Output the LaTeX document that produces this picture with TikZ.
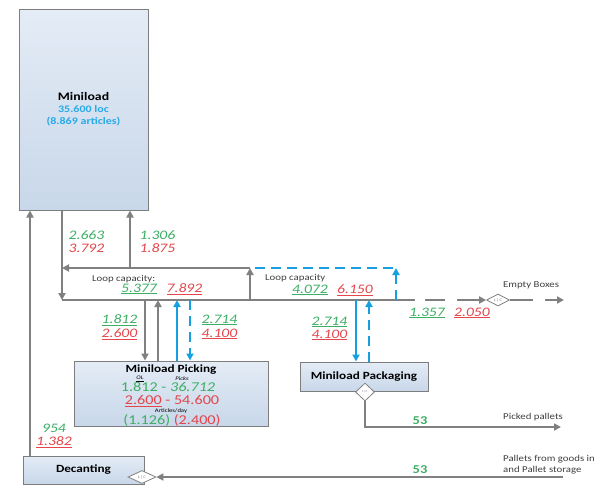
\documentclass[tikz,border=0pt]{standalone}
\usepackage{fontspec}
\setmainfont{Carlito}[FakeStretch=1.2]
\usetikzlibrary{arrows.meta,shapes.geometric}
\definecolor{gl}{RGB}{128,128,128}
\definecolor{bl}{RGB}{20,160,225}
\definecolor{bltext}{RGB}{40,170,230}
\definecolor{gn}{RGB}{60,175,100}
\definecolor{rd}{RGB}{228,70,75}
\definecolor{bxtop}{RGB}{228,236,246}
\definecolor{bxbot}{RGB}{200,215,233}
\definecolor{bxline}{RGB}{125,125,125}
\begin{document}
\begin{tikzpicture}[x=1pt,y=-1pt,
  box/.style={draw=bxline,line width=1pt,top color=bxtop,bottom color=bxbot,inner sep=0pt,
    font=\fontsize{11}{12}\selectfont\bfseries},
  gline/.style={draw=gl,line width=2.5pt},
  bline/.style={draw=bl,line width=2.5pt},
  bdash/.style={draw=bl,line width=2.5pt,dash pattern=on 10pt off 6pt},
  tip/.style={-{Triangle[length=7pt,width=7pt]}},
  diam/.style={diamond,draw=gl,line width=0.8pt,fill=white,inner sep=0pt},
  lc/.style={inner sep=0pt,font=\fontsize{4}{4}\selectfont,text=gl},
  num/.style={inner sep=0pt,font=\fontsize{13}{13}\selectfont\itshape},
  gnum/.style={num,text=gn},
  rnum/.style={num,text=rd},
  lbl/.style={inner sep=0pt,anchor=west,font=\fontsize{9}{10}\selectfont,text=black!75},
  tiny/.style={inner sep=0pt,font=\fontsize{5.5}{6}\selectfont\itshape},
  big/.style={inner sep=0pt,font=\fontsize{13.5}{14}\selectfont,text height=8.5pt,text depth=1.5pt},
  fifty/.style={inner sep=0pt,font=\fontsize{12}{12}\selectfont\bfseries,text=gn}
]
\useasboundingbox (0,0) rectangle (607,491);
\fill[white] (0,0) rectangle (607,491);

% boxes
\node[box,minimum width=129pt,minimum height=201pt,align=center] (mini) at (83.5,109.5)
  {\fontsize{11.5}{12}\selectfont Miniload\\[0pt]{\fontsize{10}{11}\selectfont\color{bltext}35.600 loc}\\[0pt]
   {\fontsize{10}{11}\selectfont\color{bltext}(8.869 articles)}};
\node[box,minimum width=194pt,minimum height=65pt] (pick) at (171,393.5) {};
\node[box,minimum width=128pt,minimum height=29pt] (pack) at (364,376.5) {Miniload Packaging};
\node[box,minimum width=121pt,minimum height=28pt] (dec) at (83.5,470) {Decanting};

% texts in picking box
\node[inner sep=0pt,font=\fontsize{11}{12}\selectfont\bfseries] (pt) at (171,370) {Miniload Picking};
\node[tiny] (pol) at (140,378.5) {\underline{OL}};
\node[tiny] (ppk) at (182,378.5) {Picks};
\node[big,text=gn] (pg) at (168,388) {1.812 - \textit{36.712}};
\node[big,text=rd] (pr) at (172,401) {\underline{2.600} - 54.600};
\node[tiny,font=\fontsize{5.5}{6}\selectfont] (pa) at (171,411) {Articles/day};
\node[big] (pp) at (172,421) {{\color{gn}(1.126)} {\color{rd}(2.400)}};

% diamonds
\node[diam,minimum width=23pt,minimum height=12pt] (d1) at (498,300) {};
\node[lc] (d1t) at (d1) {L\,|\,C};
\node[diam,minimum width=28pt,minimum height=13pt] (d3) at (142,477) {};
\node[lc] (d3t) at (d3) {L\,|\,C};

% coordinates
\coordinate (c30) at (30,0);
\coordinate (c62) at (62,0);
\coordinate (c130) at (130,0);
\coordinate (blc) at (62,300);
\coordinate (brc) at (415,300);
\coordinate (tlc) at (62,268);
\coordinate (trc) at (250,268);
\coordinate (vrc) at (250,300);
\coordinate (g1a) at (425,300);
\coordinate (g1b) at (445,300);
\coordinate (g2a) at (457,300);
\coordinate (e1) at (533,300);
\coordinate (e2) at (545,300);
\coordinate (e3) at (564,300);
\coordinate (c145) at (145,300);
\coordinate (c158) at (158,300);
\coordinate (c177) at (177,300);
\coordinate (c190) at (190,300);
\coordinate (c356) at (356,300);
\coordinate (c369) at (369,300);
\coordinate (b1) at (255,268);
\coordinate (b2) at (396,268);
\coordinate (b3) at (396,300);
\coordinate (c560) at (561,427);
\coordinate (c563) at (563,477);

% gray connectors
\draw[gline,tip] (c30 |- dec.north) -- (c30 |- mini.south);
\draw[gline,tip] (c62 |- mini.south) -- (blc);
\draw[gline] (blc) -- (brc);
\draw[gline,tip] (vrc) -- (trc);
\draw[gline,tip] (trc) -- (tlc);
\draw[gline,tip] (c130 |- tlc) -- (c130 |- mini.south);
\draw[gline] (g1a) -- (g1b);
\draw[gline,tip] (g2a) -- (d1.west);
\draw[gline] (d1.east) -- (e1);
\draw[gline,tip] (e2) -- (e3);
\draw[gline,tip] (c145) -- (c145 |- pick.north);
\draw[gline,tip] (c158 |- pick.north) -- (c158);
\draw[gline,tip] (c563) -- (d3.east);

% blue connectors
\draw[bline,tip] (c177 |- pick.north) -- (c177);
\draw[bdash,tip] (c190) -- (c190 |- pick.north);
\draw[bline,tip] (c356) -- (c356 |- pack.north);
\draw[bdash,tip] (c369 |- pack.north) -- (c369);
\draw[bdash] (b1) -- (b2);
\draw[bdash,tip] (b3) -- (b2);

% packaging diamond and picked pallets
\node[diam,minimum width=19pt,minimum height=18pt] (d2) at (365,392) {};
\node[lc,font=\fontsize{3}{3}\selectfont] (d2t) at (d2) {L|C};
\draw[gline,tip] (d2.south) |- (c560);

% labels
\node[gnum] (n1) at (86.5,235) {2.663};
\node[rnum] (n2) at (86.5,248) {3.792};
\node[gnum] (n3) at (157.5,235) {1.306};
\node[rnum] (n4) at (157.5,248) {1.875};
\node[lbl] (lp1) at (92,279) {Loop capacity:};
\node[gnum] (n5) at (139,289) {\underline{5.377}};
\node[rnum] (n6) at (184.5,289) {\underline{7.892}};
\node[lbl] (lp2) at (265,278) {Loop capacity};
\node[gnum] (n7) at (310,290) {\underline{4.072}};
\node[rnum] (n8) at (355,290) {\underline{6.150}};
\node[gnum] (n9) at (119.5,320) {\underline{1.812}};
\node[rnum] (n10) at (119.5,334) {\underline{2.600}};
\node[gnum] (n11) at (219.5,320) {\underline{2.714}};
\node[rnum] (n12) at (219.5,334) {\underline{4.100}};
\node[gnum] (n13) at (329.5,322) {\underline{2.714}};
\node[rnum] (n14) at (329.5,335) {\underline{4.100}};
\node[gnum] (n15) at (427,313) {\underline{1.357}};
\node[rnum] (n16) at (472,313) {\underline{2.050}};
\node[gnum] (n17) at (54,428) {954};
\node[rnum] (n18) at (54,442) {\underline{1.382}};
\node[lbl] (eb) at (503,285) {Empty Boxes};
\node[fifty] (f1) at (420,421) {53};
\node[lbl] (pkp) at (503,417) {Picked pallets};
\node[fifty] (f2) at (420,470) {53};
\node[lbl] (pf1) at (503,459) {Pallets from goods in};
\node[lbl] (pf2) at (503,470) {and Pallet storage};
\end{tikzpicture}
\end{document}
